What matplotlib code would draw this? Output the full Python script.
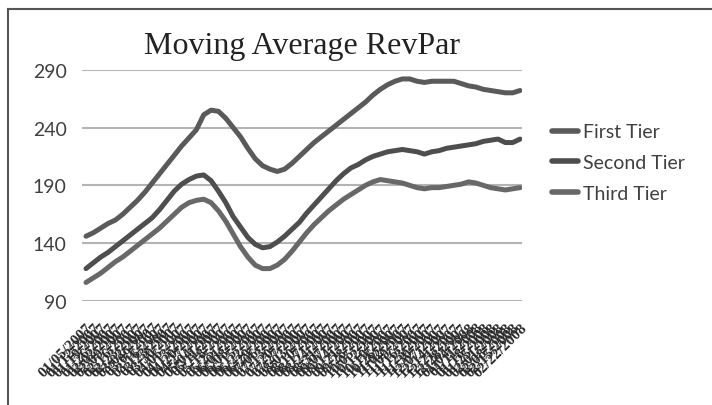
import matplotlib
matplotlib.use("Agg")
import matplotlib.pyplot as plt
from matplotlib.lines import Line2D
import pandas as pd

# weekly moving-average RevPar, three hotel tiers
weeks = [d.strftime("%m/%d/%Y") for d in pd.date_range("2007-01-05", periods=60, freq="W-FRI")]

first_tier = [146, 149, 153, 157, 160, 165, 171, 177, 184, 192,
              200, 208, 216, 224, 231, 238, 251, 255, 254, 248,
              240, 232, 222, 213, 207, 204, 202, 204, 209, 215,
              221, 227, 232, 237, 242, 247, 252, 257, 262, 268,
              273, 277, 280, 282, 282, 280, 279, 280, 280, 280,
              280, 278, 276, 275, 273, 272, 271, 270, 270, 272]

second_tier = [118, 123, 128, 132, 137, 142, 147, 152, 157, 162,
               169, 177, 185, 191, 195, 198, 199, 194, 185, 175,
               163, 154, 145, 139, 136, 137, 141, 146, 152, 158,
               166, 173, 180, 187, 194, 200, 205, 208, 212, 215,
               217, 219, 220, 221, 220, 219, 217, 219, 220, 222,
               223, 224, 225, 226, 228, 229, 230, 227, 227, 230]

third_tier = [106, 110, 114, 119, 124, 128, 133, 138, 143, 148,
              153, 159, 165, 171, 175, 177, 178, 175, 168, 159,
              148, 137, 128, 121, 118, 118, 121, 126, 133, 141,
              149, 156, 162, 168, 173, 178, 182, 186, 190, 193,
              195, 194, 193, 192, 190, 188, 187, 188, 188, 189,
              190, 191, 193, 192, 190, 188, 187, 186, 187, 188]

series_names = ["First Tier", "Second Tier", "Third Tier"]
series_colors = ["#5a5a5a", "#4e4e4e", "#686868"]
y_ticks = [90, 140, 190, 240, 290]

fig = plt.figure(figsize=(7.12, 4.06), dpi=100)
ax = fig.add_axes([0.1152, 0.2562, 0.618, 0.5697])

x = list(range(len(weeks)))
for vals, name, col in zip([first_tier, second_tier, third_tier], series_names, series_colors):
    ax.plot(x, vals, color=col, lw=3.6, label=name, solid_capstyle="round")

ax.set_xlim(-0.54, 59.27)
ax.set_ylim(90, 290)
ax.set_yticks(y_ticks)
ax.grid(axis="y", color="#b4b4b4", lw=1.5)
ax.set_axisbelow(True)
for s in ax.spines.values():
    s.set_visible(False)

ax.set_xticks(x)
ax.set_xticklabels(weeks, rotation=45, ha="right", rotation_mode="anchor",
                   fontsize=11, fontweight="bold", family="Liberation Serif", color="#2a2a2a")
ax.tick_params(axis="x", length=0, pad=14)
ax.tick_params(axis="y", length=0, pad=11, labelsize=14, labelcolor="#404040")
for lab in ax.get_yticklabels():
    lab.set_family("Lato")

fig.text(0.424, 0.886, "Moving Average RevPar", ha="center", va="center",
         fontsize=23, family="Liberation Serif", color="#222222")

leg = ax.legend(loc="center left", bbox_to_anchor=(1.068, 0.599), frameon=False,
                borderpad=0, borderaxespad=0, handlelength=1.34, handletextpad=0.26,
                labelspacing=0.7, prop={"family": "Lato", "size": 14})
for t in leg.get_texts():
    t.set_color("#404040")
for h in leg.get_lines():
    h.set_linewidth(4)

# outer frame (top and left only, as in the cropped original)
fig.add_artist(Line2D([0.0112, 1], [0.9766, 0.9766], transform=fig.transFigure, color="#555555", lw=1.5))
fig.add_artist(Line2D([0.0112, 0.0112], [0, 0.9766], transform=fig.transFigure, color="#555555", lw=1.5))

fig.savefig("out.png", dpi=100)
